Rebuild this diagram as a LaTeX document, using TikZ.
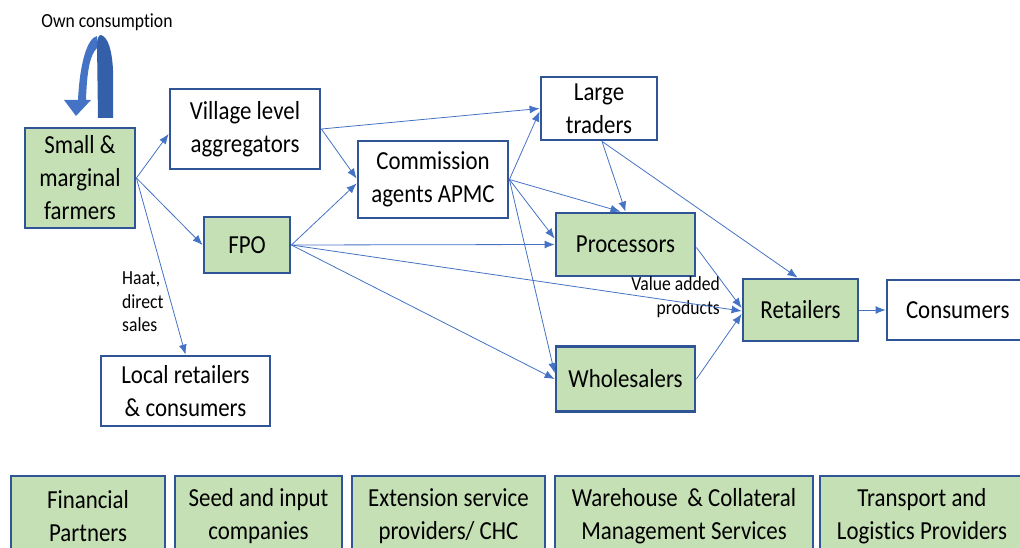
\documentclass[tikz,border=0pt]{standalone}
\usepackage{fontspec}
\setmainfont[FakeStretch=0.88,Ligatures=NoCommon]{Carlito}
\usetikzlibrary{arrows.meta,calc}
\definecolor{bordc}{HTML}{2F5597}
\definecolor{fillg}{HTML}{C5E0B4}
\definecolor{arrc}{HTML}{4472C4}
\definecolor{darkarr}{HTML}{3360A8}
\begin{document}
\begin{tikzpicture}[x=1pt,y=1pt,
  box/.style={draw=bordc, line width=2.8pt, fill=white, align=center, inner sep=0pt,
    font=\fontsize{26}{33}\selectfont, text=black},
  gbox/.style={box, fill=fillg},
  flow/.style={draw=arrc, line width=0.8pt, -{Latex[length=10pt,width=8pt]}},
  lbl/.style={font=\fontsize{20}{23.5}\selectfont, inner sep=0pt, text=black}]
\useasboundingbox (0,0) rectangle (1020,-548);

% main nodes
\node[gbox, minimum width=110pt, minimum height=100pt] (farm) at (80,-178) {Small \&\\marginal\\farmers};
\node[box, minimum width=150pt, minimum height=80pt] (vla) at (245,-129) {Village level\\aggregators};
\node[gbox, minimum width=86pt, minimum height=56pt] (fpo) at (247,-245) {FPO};
\node[box, minimum width=169pt, minimum height=70pt] (local) at (185.5,-391) {Local retailers\\\& consumers};
\node[box, minimum width=150pt, minimum height=77pt] (comm) at (433,-179.5) {Commission\\agents APMC};
\node[box, minimum width=116pt, minimum height=63pt] (large) at (599,-108.5) {Large\\traders};
\node[gbox, minimum width=139pt, minimum height=63pt] (proc) at (625.5,-244.5) {Processors};
\node[gbox, minimum width=139pt, minimum height=65pt] (whole) at (625.5,-379) {Wholesalers};
\node[gbox, minimum width=115pt, minimum height=62pt] (ret) at (800.5,-310) {Retailers};
\node[box, minimum width=137pt, minimum height=60pt, text width=131pt, align=left] (cons) at (955.5,-310) {\hspace{16pt}Consumers};

% bottom service boxes
\node[gbox, minimum width=154pt, minimum height=80pt] (fin) at (88,-516) {Financial\\Partners};
\node[gbox, minimum width=167pt, minimum height=80pt] (seed) at (258.5,-516) {Seed and input\\companies};
\node[gbox, minimum width=193pt, minimum height=80pt] (ext) at (448.5,-516) {Extension service\\providers/ CHC};
\node[gbox, minimum width=258pt, minimum height=80pt] (ware) at (684,-516) {Warehouse \,\&\ Collateral\\Management Services};
\node[gbox, minimum width=204pt, minimum height=80pt] (trans) at (922,-516) {Transport and\\Logistics Providers};

% labels
\node[lbl] (own) at (107,-22) {Own consumption};
\node[lbl, align=left, anchor=west] (haat) at (122,-302) {Haat,\\direct\\sales};
\node[lbl, align=right, anchor=east] (vap) at (720,-297) {Value added\\products};

% own consumption curved arrow
\fill[arrc] (97,-36) .. controls (88,-38) and (80,-60) .. (78,-100) -- (64,-100) -- (76,-116) -- (91,-100) -- (86,-100) .. controls (87,-70) and (90,-55) .. (97,-48) -- cycle;
\fill[darkarr] (98,-118) -- (97,-44) .. controls (97,-38) and (99,-35) .. (101,-35) .. controls (108,-37) and (112,-50) .. (113,-70) -- (113,-118) -- cycle;

% flows
\draw[flow] (farm.east) -- ($(vla.west)+(0,-5)$);
\draw[flow] (farm.east) -- (fpo.west);
\draw[flow] (farm.east) -- (local.north);
\draw[flow] (vla.east) -- (large.west);
\draw[flow] (vla.east) -- ($(comm.west)+(0,1)$);
\draw[flow] (fpo.east) -- ($(comm.west)+(0,-4)$);
\draw[flow] (fpo.east) -- (proc.west);
\draw[flow] (fpo.east) -- ($(ret.west)+(0,-1)$);
\draw[flow] (fpo.east) -- (whole.west);
\draw[flow] (comm.east) -- ($(large.west)+(0,-3)$);
\draw[flow] (comm.east) -- ($(proc.north)+(-5,0)$);
\draw[flow] (comm.east) -- ($(proc.west)+(0,6)$);
\draw[flow] (comm.east) -- ($(whole.west)+(0,6)$);
\draw[flow] ($(large.south)+(3,0)$) -- (proc.north);
\draw[flow] ($(large.south)+(3,0)$) -- ($(ret.north)+(-3,0)$);
\draw[flow] ($(proc.east)+(0,-3)$) -- ($(ret.west)+(0,2)$);
\draw[flow] (whole.east) -- ($(ret.west)+(0,-4)$);
\draw[flow] (ret.east) -- (cons.west);
\end{tikzpicture}
\end{document}
